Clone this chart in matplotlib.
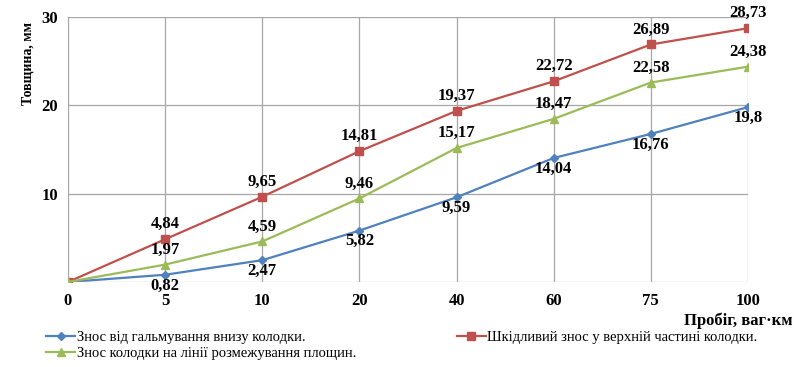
import matplotlib
matplotlib.use('Agg')
from matplotlib import pyplot as plt

plt.rcParams['font.family'] = ['Liberation Serif', 'DejaVu Serif']

# Дані з графіка
probig = ['0', '5', '10', '20', '40', '60', '75', '100']
znos_vnyzu = [0, 0.82, 2.47, 5.82, 9.59, 14.04, 16.76, 19.8]
znos_verh = [0, 4.84, 9.65, 14.81, 19.37, 22.72, 26.89, 28.73]
znos_liniya = [0, 1.97, 4.59, 9.46, 15.17, 18.47, 22.58, 24.38]

names = ['Знос від гальмування внизу колодки.',
         'Шкідливий знос у верхній частині колодки.',
         'Знос колодки на лінії розмежування площин.']

fig = plt.figure(figsize=(7.97, 3.67), dpi=100)
ax = fig.add_axes([0.0853, 0.2316, 0.9385 - 0.0853, 0.9537 - 0.2316])

x = list(range(len(probig)))
l1, = ax.plot(x, znos_vnyzu, color='#4F81BD', marker='D', ms=4, lw=1.6)
l2, = ax.plot(x, znos_verh, color='#C0504D', marker='s', ms=5.5, lw=1.6)
l3, = ax.plot(x, znos_liniya, color='#9BBB59', marker='^', ms=6, lw=1.6)

def fmt(v):
    return f'{v:g}'.replace('.', ',')

fs = 12
for i in x[1:]:
    ax.annotate(fmt(znos_verh[i]), (i, znos_verh[i]), xytext=(0, 5), textcoords='offset points',
                ha='center', va='bottom', fontsize=fs, fontweight='bold')
    ax.annotate(fmt(znos_liniya[i]), (i, znos_liniya[i]), xytext=(0, 5), textcoords='offset points',
                ha='center', va='bottom', fontsize=fs, fontweight='bold')
    ax.annotate(fmt(znos_vnyzu[i]), (i, znos_vnyzu[i]), xytext=(0, -2), textcoords='offset points',
                ha='center', va='top', fontsize=fs, fontweight='bold')

ax.set_xlim(0, 7)
ax.set_ylim(0, 30)
ax.set_xticks(x)
ax.set_xticklabels(probig, fontsize=fs, fontweight='bold')
ax.set_yticks([10, 20, 30])
ax.set_yticklabels(['10', '20', '30'], fontsize=fs, fontweight='bold')
ax.tick_params(axis='x', length=0, pad=8)
ax.tick_params(axis='y', length=0, pad=7)
ax.grid(True, color='#A6A6A6', lw=0.9)
for s in ax.spines.values():
    s.set_visible(False)
ax.axhline(0, color='#BFBFBF', lw=0.9)
ax.set_axisbelow(True)

fig.text(0.035, 0.828, 'Товщина, мм', rotation=90, ha='center', va='center',
         fontsize=10, fontweight='bold')
fig.text(0.995, 0.126, 'Пробіг, ваг·км', ha='right', va='center',
         fontsize=12, fontweight='bold')

fig.legend([l1, l3, l2], [names[0], names[2], names[1]], ncol=2, loc='lower left',
           bbox_to_anchor=(0.045, -0.01), frameon=False, fontsize=10.5,
           handlelength=2.0, columnspacing=6.9, labelspacing=0.2, handletextpad=0.1,
           borderaxespad=0.3)

fig.savefig('out.png', dpi=100)
